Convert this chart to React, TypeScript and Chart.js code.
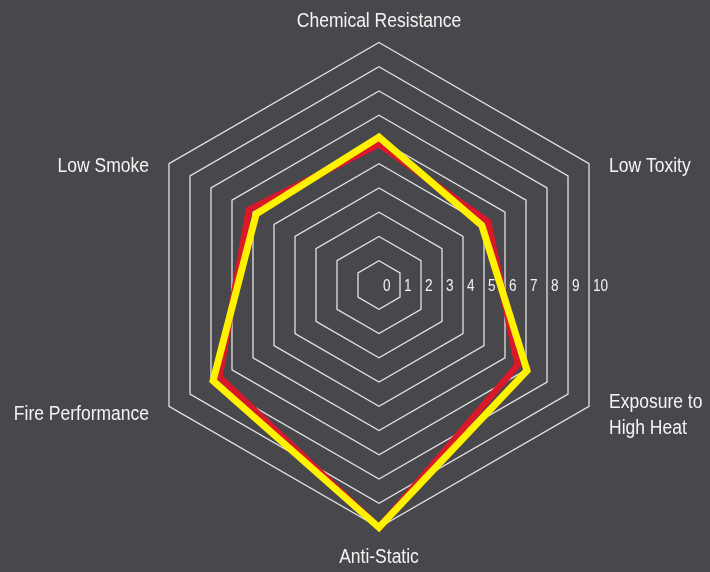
import React, { useEffect, useRef } from "react";
import { Chart, registerables } from "chart.js";

Chart.register(...registerables);

const categories: (string | string[])[] = [
  "Chemical Resistance",
  "Low Toxity",
  ["Exposure to", "High Heat"],
  "Anti-Static",
  "Fire Performance",
  "Low Smoke",
];
const yellowValues = [6.1, 4.9, 7.05, 10, 7.9, 5.85];
const redValues = [5.8, 5.2, 6.6, 10, 7.6, 6.2];
const tickLabels = ["0", "1", "2", "3", "4", "5", "6", "7", "8", "9", "10"];

const BG = "#48474c";
const FONT = '"Liberation Sans", Arial, sans-serif';

function condensedText(ctx: any, text: string, x: number, y: number, sx: number) {
  ctx.save();
  ctx.translate(x, y);
  ctx.scale(sx, 1);
  ctx.fillText(text, 0, 0);
  ctx.restore();
}

const bgPlugin = {
  id: "bg",
  beforeDraw(chart: any) {
    const { ctx, width, height } = chart;
    ctx.save();
    ctx.fillStyle = BG;
    ctx.fillRect(0, 0, width, height);
    ctx.restore();
  },
};

const tickPlugin = {
  id: "tickText",
  beforeDatasetsDraw(chart: any) {
    const scale = chart.scales.r;
    const ctx = chart.ctx;
    ctx.save();
    ctx.fillStyle = "#f2f2f2";
    ctx.font = `16px ${FONT}`;
    ctx.textAlign = "left";
    ctx.textBaseline = "middle";
    tickLabels.forEach((t) => {
      const v = Number(t);
      const d = scale.getDistanceFromCenterForValue(v) * Math.cos(Math.PI / 6);
      condensedText(ctx, t, scale.xCenter + d + 4, scale.yCenter + 1.5, 0.85);
    });
    ctx.restore();
  },
};

const pointLabelPlugin = {
  id: "pointText",
  afterDatasetsDraw(chart: any) {
    const scale = chart.scales.r;
    const ctx = chart.ctx;
    ctx.save();
    ctx.fillStyle = "#f4f4f4";
    ctx.font = `20px ${FONT}`;
    const lh = 26;
    categories.forEach((lab, i) => {
      const lines = Array.isArray(lab) ? lab : [lab];
      const p = scale.getPointPosition(i, scale.drawingArea);
      const deg = Math.round((scale.getIndexAngle(i) * 180) / Math.PI) % 360;
      let x = p.x;
      let yMid = p.y;
      if (deg === 0) {
        ctx.textAlign = "center";
        yMid = p.y - 21;
      } else if (deg === 180) {
        ctx.textAlign = "center";
        yMid = p.y + 30;
      } else if (deg < 180) {
        ctx.textAlign = "left";
        x = p.x + 20;
        yMid = p.y + (deg < 90 ? 2.5 : 9);
      } else {
        ctx.textAlign = "right";
        x = p.x - 20;
        yMid = p.y + (deg > 270 ? 2.5 : 8.5);
      }
      ctx.textBaseline = "middle";
      const top = yMid - ((lines.length - 1) * lh) / 2;
      lines.forEach((ln, k) => condensedText(ctx, ln, x, top + k * lh, 0.875));
    });
    ctx.restore();
  },
};

export default function App() {
  const ref = useRef<HTMLCanvasElement | null>(null);
  useEffect(() => {
    if (!ref.current) return;
    const chart = new Chart(ref.current, {
      type: "radar",
      data: {
        labels: categories as any,
        datasets: [
          {
            label: "Yellow",
            data: yellowValues,
            borderColor: "#fff200",
            backgroundColor: "transparent",
            borderWidth: 7,
            pointRadius: 0,
            fill: false,
          },
          {
            label: "Red",
            data: redValues,
            borderColor: "#d9192a",
            backgroundColor: "transparent",
            borderWidth: 6.5,
            pointRadius: 0,
            fill: false,
          },
        ],
      },
      options: {
        responsive: false,
        animation: false,
        devicePixelRatio: 1,
        plugins: { legend: { display: false }, tooltip: { enabled: false } },
        scales: {
          r: {
            min: 0,
            max: 10,
            ticks: { stepSize: 1, display: false },
            pointLabels: { display: false },
            angleLines: { display: false },
            grid: { circular: false, color: "rgba(240,240,240,0.92)", lineWidth: 1.3 },
            afterFit: (scale: any) => {
              scale.xCenter = 379;
              scale.yCenter = 285;
              scale.drawingArea = 242.5;
            },
          } as any,
        },
      },
      plugins: [bgPlugin, tickPlugin, pointLabelPlugin],
    });
    return () => chart.destroy();
  }, []);
  return (
    <div style={{ position: "fixed", left: 0, top: 0, width: 710, height: 572, background: BG }}>
      <canvas ref={ref} width={710} height={572} style={{ display: "block" }} />
    </div>
  );
}
